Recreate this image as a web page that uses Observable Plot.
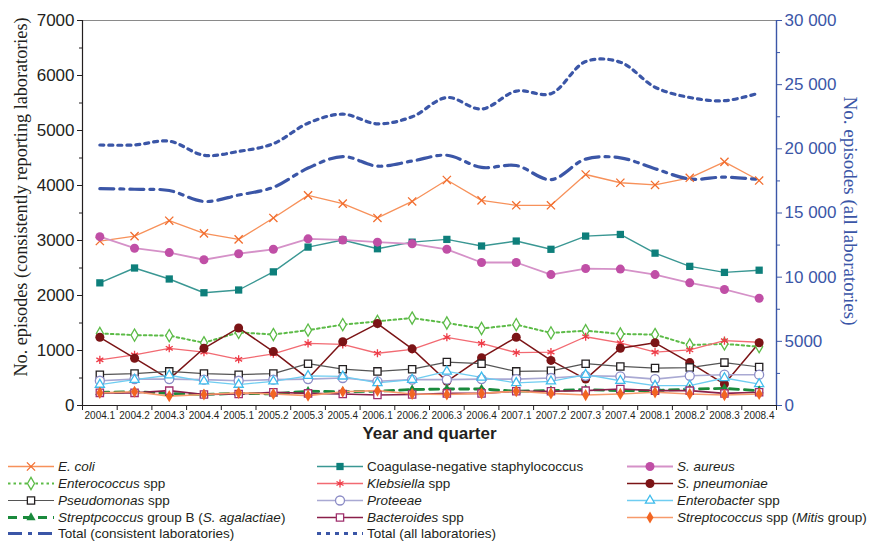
<!DOCTYPE html>
<html>
<head>
<meta charset="utf-8">
<script src="https://cdn.jsdelivr.net/npm/d3@7"></script>
<script src="https://cdn.jsdelivr.net/npm/@observablehq/plot@0.6"></script>
<style>
  body { margin: 0; background: #fff; font-family: "Liberation Sans", Arial, sans-serif; }
  #chart { width: 874px; }
  #legend { position: relative; width: 874px; height: 90px; }
  .item { position: absolute; display: flex; align-items: center; font-size: 13.5px; color: #231f20; white-space: nowrap; transform: translateY(-50%); }
  .item svg { margin-right: 4px; overflow: visible; }
</style>
</head>
<body>
<div id="chart"></div>
<div id="legend"></div>
<script>
// Quarters on the x axis
const quarters = ["2004.1","2004.2","2004.3","2004.4","2005.1","2005.2","2005.3","2005.4",
  "2006.1","2006.2","2006.3","2006.4","2007.1","2007.2","2007.3","2007.4",
  "2008.1","2008.2","2008.3","2008.4"];

// Episodes per quarter, consistently reporting laboratories (left axis)
const eColi        = [2990,3080,3360,3130,3020,3410,3820,3670,3410,3710,4100,3730,3640,3640,4200,4050,4010,4140,4430,4090];
const cons         = [2230,2500,2300,2050,2100,2430,2880,3010,2850,2970,3020,2900,2990,2840,3080,3110,2770,2530,2420,2460];
const sAureus      = [3070,2860,2780,2650,2760,2840,3030,3010,2970,2940,2840,2600,2600,2380,2490,2480,2380,2230,2110,1950];
const enterococcus = [1310,1280,1270,1140,1330,1290,1370,1470,1530,1590,1500,1400,1470,1320,1360,1300,1290,1100,1120,1070];
const klebsiella   = [830,920,1040,970,840,940,1130,1110,950,1020,1240,1130,960,970,1250,1140,970,1010,1180,1150];
const sPneumoniae  = [1240,860,480,1040,1410,980,490,1160,1490,1030,440,870,1240,820,480,1040,1140,780,390,1140];
const pseudomonas  = [560,580,620,580,560,580,760,660,620,660,790,760,620,630,760,710,680,690,780,700];
const proteeae     = [450,480,480,470,450,470,480,500,440,470,470,480,480,500,540,530,480,540,560,560];
const enterobacter = [380,470,550,440,380,440,540,530,410,470,620,510,410,440,560,450,360,360,500,390];
const strepB       = [240,250,220,200,220,210,260,250,260,290,300,300,260,270,290,270,270,300,310,270];
const bacteroides  = [230,230,270,200,210,240,220,210,190,200,220,220,260,260,270,300,270,270,220,240];
const strepMitis   = [230,250,170,200,230,210,180,250,270,210,200,220,260,220,190,210,240,210,190,210];

// Totals (right axis)
const totalConsistent = [16900,16850,16750,15900,16400,17000,18500,19400,18650,19050,19500,18550,18700,17600,19200,19300,18450,17650,17800,17600];
const totalAll        = [20300,20300,20600,19500,19800,20400,22000,22700,21950,22500,24000,23100,24500,24300,26800,26750,24800,24000,23750,24350];

// Axis ticks
const leftTicks = [0,1000,2000,3000,4000,5000,6000,7000];
const rightTicks = [0,5000,10000,15000,20000,25000,30000];

// Right-axis values are drawn on the left scale by this factor
const k = 7000 / 30000;
const blue = "#3b56a7";

// Marker radius per symbol, so that shapes read at similar sizes
const symbolR = {circle: 4.5, square: 4.1, diamond: 3.7, triangle: 3.4, times: 3.8, asterisk: 3.8};

const series = [
  {label: ["<i>E. coli</i>"], values: eColi, color: "#f26d2e", line: "#f7915a", symbol: "times", open: true, width: 1.3},
  {label: ["Coagulase-negative staphylococcus"], values: cons, color: "#0e7f7b", line: "#3a9793", symbol: "square", width: 1.4},
  {label: ["<i>S. aureus</i>"], values: sAureus, color: "#c04fa6", line: "#d591c8", symbol: "circle", width: 1.8},
  {label: ["<i>Enterococcus</i> spp"], values: enterococcus, color: "#5cbb47", line: "#5cbb47", symbol: "diamond", open: true, width: 2, dash: "2.5,3"},
  {label: ["<i>Klebsiella</i> spp"], values: klebsiella, color: "#ee3b47", line: "#f26a72", symbol: "asterisk", open: true, width: 1.3},
  {label: ["<i>S. pneumoniae</i>"], values: sPneumoniae, color: "#7b1416", line: "#7b1416", symbol: "circle", width: 1.5},
  {label: ["<i>Pseudomonas</i> spp"], values: pseudomonas, color: "#231f20", line: "#555", symbol: "square", open: true, width: 1.2},
  {label: ["<i>Proteeae</i>"], values: proteeae, color: "#8c8cc6", line: "#a9a9d3", symbol: "circle", open: true, width: 1.6},
  {label: ["<i>Enterobacter</i> spp"], values: enterobacter, color: "#3fbcec", line: "#6fcdf1", symbol: "triangle", open: true, width: 1.3},
  {label: ["<i>Streptpcoccus</i> group B (<i>S. agalactiae</i>)"], values: strepB, color: "#1a8a3c", line: "#1a8a3c", symbol: "triangle", width: 2.8, dash: "9,6"},
  {label: ["<i>Bacteroides</i> spp"], values: bacteroides, color: "#a0306e", line: "#8a1f4a", symbol: "square", open: true, width: 1.6},
  {label: ["<i>Streptococcus</i> spp (<i>Mitis</i> group)"], values: strepMitis, color: "#f26522", line: "#f79a6b", symbol: "diamond", width: 1.6},
  {label: ["Total (consistent laboratories)"], values: totalConsistent, color: blue, line: blue, width: 3.2, dash: "14,6,4,6", right: true},
  {label: ["Total (all laboratories)"], values: totalAll, color: blue, line: blue, width: 3.2, dash: "4,5", right: true}
];

const rowsOf = s => quarters.map((q, i) => ({i, v: s.right ? s.values[i] * k : s.values[i]}));

const fmtRight = v => v >= 10000 ? d3.format(",")(v).replace(",", " ") : String(v);

const marks = [
  // frame lines
  Plot.ruleY([7000], {stroke: "#8a8a8a", strokeWidth: 1}),
  Plot.ruleY([0], {stroke: "#231f20", strokeWidth: 1.2}),
  Plot.ruleX([-0.5], {stroke: "#231f20", strokeWidth: 1.2}),
  Plot.ruleX([19.5], {stroke: blue, strokeWidth: 1.4}),
  // left axis
  Plot.axisY({ticks: leftTicks, tickSize: 5, tickPadding: 3, label: null, fontSize: 17, color: "#231f20", tickFormat: d => String(d)}),
  Plot.axisY({ticks: d3.range(500, 7000, 1000), tickSize: 3, tickFormat: () => "", label: null, color: "#231f20"}),
  // right axis
  Plot.axisY({anchor: "right", ticks: rightTicks.map(v => v * k), tickSize: 5, tickPadding: 3, label: null, fontSize: 17,
    color: blue, tickFormat: d => fmtRight(Math.round(d / k))}),
  Plot.axisY({anchor: "right", ticks: d3.range(2500, 30000, 5000).map(v => v * k), tickSize: 3, tickFormat: () => "", label: null, color: blue}),
  // x axis: labels centred in each quarter, ticks between quarters
  Plot.axisX({ticks: d3.range(quarters.length), tickSize: 0, tickPadding: 6, tickFormat: i => quarters[i], label: null, fontSize: 10, color: "#231f20"}),
  Plot.axisX({ticks: d3.range(quarters.length + 1).map(i => i - 0.5), tickSize: 5, tickFormat: () => "", label: null, color: "#231f20"}),
  // titles
  Plot.text(["Year and quarter"], {frameAnchor: "bottom", dy: 33, fontWeight: "bold", fontSize: 17, fill: "#231f20"}),
  Plot.text(["No. episodes (consistently reporting laboratories)"], {frameAnchor: "left", textAnchor: "middle", dx: -61, dy: -16, rotate: -90,
    fontFamily: "Liberation Serif", fontSize: 18.2, fill: "#231f20"}),
  Plot.text(["No. episodes (all laboratories)"], {frameAnchor: "right", textAnchor: "middle", dx: 74, dy: -2, rotate: 90,
    fontFamily: "Liberation Serif", fontSize: 19, fill: blue})
];

for (const s of series) {
  const rows = rowsOf(s);
  marks.push(Plot.line(rows, {x: "i", y: "v", stroke: s.line, strokeWidth: s.width, strokeDasharray: s.dash,
    curve: s.right ? "catmull-rom" : "linear"}));
}
for (const s of series) {
  if (!s.symbol) continue;
  const rows = rowsOf(s);
  const strokeOnly = s.symbol === "times" || s.symbol === "asterisk";
  marks.push(Plot.dot(rows, {x: "i", y: "v", symbol: s.symbol, r: symbolR[s.symbol],
    fill: strokeOnly ? "none" : (s.open ? "white" : s.color),
    stroke: s.open ? s.color : "none", strokeWidth: s.open ? 1.3 : 0}));
}

const chart = Plot.plot({
  width: 874,
  height: 452,
  marginTop: 20,
  marginBottom: 47,
  marginLeft: 82,
  marginRight: 98,
  style: {fontFamily: "Liberation Sans, Arial, sans-serif", background: "white"},
  x: {domain: [-0.5, 19.5]},
  y: {domain: [0, 7000]},
  marks
});
document.getElementById("chart").append(chart);

// Legend below the chart
const symbolMap = {times: d3.symbolTimes, asterisk: d3.symbolAsterisk, diamond: d3.symbolDiamond,
  square: d3.symbolSquare, circle: d3.symbolCircle, triangle: d3.symbolTriangle};
const cols = [8, 317, 627];
const rowY = [14, 31, 48, 65, 81];
const legend = d3.select("#legend");
series.forEach((s, idx) => {
  const col = idx % 3, row = Math.floor(idx / 3);
  const item = legend.append("div").attr("class", "item")
    .style("left", cols[col] + "px").style("top", rowY[row] + "px");
  const svg = item.append("svg").attr("width", 46).attr("height", 14);
  svg.append("line").attr("x1", 0).attr("x2", 46).attr("y1", 7).attr("y2", 7)
    .attr("stroke", s.line).attr("stroke-width", s.width).attr("stroke-dasharray", s.dash || null);
  if (s.symbol) {
    const strokeOnly = s.symbol === "times" || s.symbol === "asterisk";
    const r = symbolR[s.symbol];
    svg.append("path").attr("transform", "translate(23,7)")
      .attr("d", d3.symbol(symbolMap[s.symbol], Math.PI * r * r)())
      .attr("fill", strokeOnly ? "none" : (s.open ? "white" : s.color))
      .attr("stroke", s.open ? s.color : "none").attr("stroke-width", s.open ? 1.3 : 0);
  }
  item.append("span").html(s.label[0]);
});
</script>
</body>
</html>
